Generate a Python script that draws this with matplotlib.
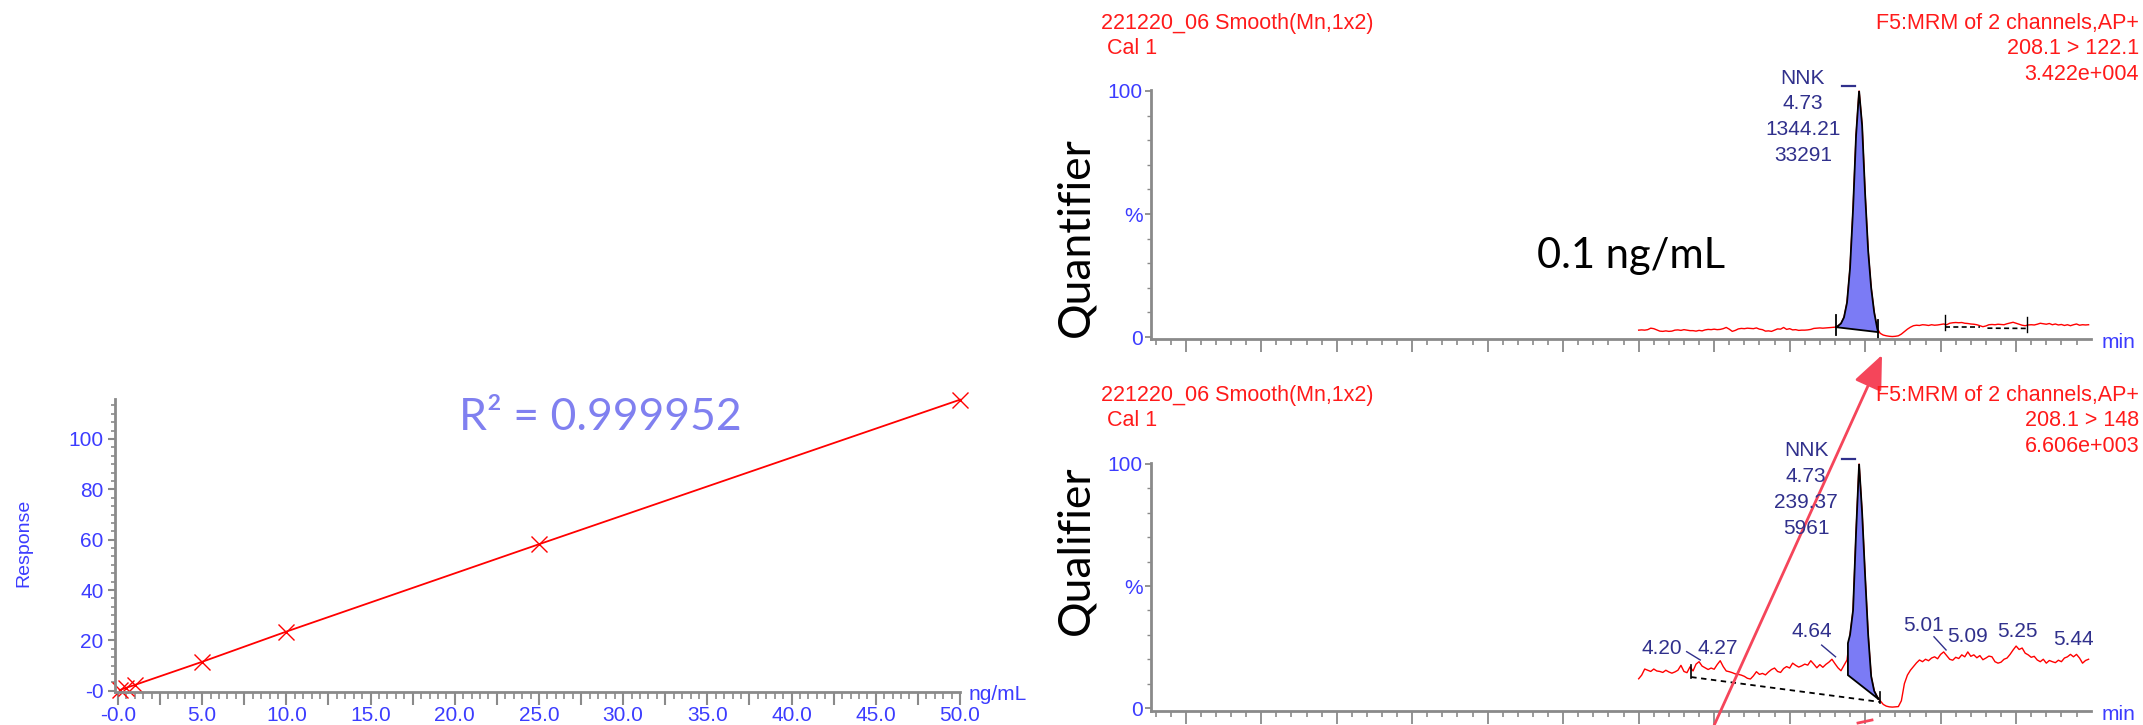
import numpy as np
import matplotlib
matplotlib.use("Agg")
import matplotlib.pyplot as plt
from matplotlib.ticker import MultipleLocator, FuncFormatter, NullFormatter, FixedLocator
from matplotlib.patches import FancyArrowPatch

# ---------------- data ----------------
# calibration curve
conc = [0.1, 0.5, 1.0, 5.0, 10.0, 25.0, 50.0]
response = [0.25, 1.2, 2.3, 11.5, 23.5, 58.2, 115.6]
r2_text = "R² = 0.999952"

# chromatogram sampling (min)
trace_start, trace_step, trace_n = 4.00, 0.01, 150

quant_pct = [
    2.8, 2.9, 2.8, 3.0, 3.6, 3.4, 2.9, 2.4, 2.3, 2.5,
    2.3, 2.4, 2.8, 2.9, 2.7, 3.0, 2.8, 2.6, 2.6, 2.4,
    2.7, 2.5, 2.9, 3.1, 3.0, 3.2, 3.0, 3.1, 3.4, 3.9,
    3.2, 2.3, 2.7, 3.3, 3.5, 3.4, 3.6, 3.5, 3.4, 3.7,
    3.2, 3.0, 2.4, 2.5, 2.3, 2.8, 3.3, 3.2, 3.9, 3.1,
    3.4, 2.9, 3.0, 2.7, 2.8, 2.8, 2.9, 3.1, 3.5, 3.6,
    3.7, 3.6, 3.7, 3.8, 3.9, 4.0, 4.5, 5.5, 8.0, 14.0,
    28.0, 52.0, 82.0, 100.0, 86.0, 58.0, 35.0, 20.0, 10.0, 3.5,
    1.5, 0.8, 0.5, 0.3, 0.2, 0.3, 0.5, 1.2, 2.2, 3.2,
    4.0, 4.6, 4.8, 4.7, 5.0, 4.9, 4.7, 5.0, 4.8, 4.9,
    5.1, 5.3, 5.0, 5.6, 5.8, 5.9, 5.8, 5.9, 5.6, 5.5,
    5.3, 5.2, 5.0, 4.6, 4.2, 4.5, 5.0, 5.1, 5.0, 5.2,
    5.1, 5.0, 5.4, 5.7, 6.0, 5.6, 5.2, 4.8, 4.6, 4.9,
    5.0, 4.9, 5.2, 5.6, 5.4, 5.2, 5.5, 5.0, 5.3, 4.9,
    5.1, 4.7, 5.0, 4.6, 5.0, 5.3, 4.8, 5.0, 4.9, 5.0,
]

qual_pct = [
    12.0, 13.5, 16.0, 15.5, 15.0, 16.0, 15.2, 15.0, 14.6, 15.5,
    14.8, 14.3, 14.8, 15.5, 17.5, 15.0, 14.5, 16.9, 15.2, 18.0,
    19.0, 17.2, 16.5, 15.8, 16.4, 15.9, 17.8, 19.4, 17.0, 15.2,
    14.9, 14.5, 14.0, 13.8, 13.5, 13.0, 12.2, 11.9, 13.2, 14.9,
    13.8, 14.2, 13.6, 14.8, 15.8, 16.4, 15.0, 14.6, 16.2, 17.0,
    16.4, 18.4, 17.5, 16.8, 17.3, 18.0, 17.6, 19.4, 18.0, 16.5,
    17.8, 16.7, 17.9, 18.8, 20.0, 18.2, 16.5, 15.3, 17.5, 19.7,
    30.0, 40.0, 72.0, 100.0, 80.0, 54.0, 30.0, 13.0, 7.0, 4.6,
    3.0, 1.5, 0.8, 0.5, 0.4, 0.5, 0.6, 3.0, 10.0, 13.5,
    15.5, 17.0, 18.5, 19.7, 19.0, 20.0, 19.4, 20.5, 21.0, 20.2,
    22.0, 23.0, 21.5, 20.0, 19.6, 20.8, 20.3, 21.8, 21.0, 23.0,
    21.2, 21.8, 20.6, 21.5, 19.8, 20.5, 21.3, 21.0, 19.0, 18.4,
    18.8, 20.0, 20.5, 22.0, 23.8, 25.4, 24.0, 24.6, 22.5, 21.8,
    20.8, 21.2, 19.7, 19.0, 20.0, 18.4, 19.5, 19.0, 18.6, 19.6,
    19.0, 20.5, 21.0, 22.0, 21.0, 22.0, 20.5, 18.4, 19.5, 20.0,
]

# peak labels
quant_peak = ["NNK", "4.73", "1344.21", "33291"]
qual_peak = ["NNK", "4.73", "239.37", "5961"]
qual_rt_labels = ["4.20", "4.27", "4.64", "5.01", "5.09", "5.25", "5.44"]

quant_header_left = ["221220_06 Smooth(Mn,1x2)", "Cal 1"]
quant_header_right = ["F5:MRM of 2 channels,AP+", "208.1 > 122.1", "3.422e+004"]
qual_header_left = ["221220_06 Smooth(Mn,1x2)", "Cal 1"]
qual_header_right = ["F5:MRM of 2 channels,AP+", "208.1 > 148", "6.606e+003"]

# ---------------- style ----------------
W, H = 2143, 725
BLUE = "#3c3cff"
NAVY = "#30308c"
LAV = "#8080f0"
RED = "#ff1a1a"
GRAY = "#8a8a8a"
FILL = "#7b7bf5"
SANS = ["Liberation Sans", "DejaVu Sans"]
GEO = ["Lato", "DejaVu Sans"]

fig = plt.figure(figsize=(W / 100, H / 100), dpi=100)


def fx(px):
    return px / W


def fy(py):
    return 1 - py / H


def ftext(px, py, s, **kw):
    kw.setdefault("family", SANS)
    fig.text(fx(px), fy(py), s, **kw)


# ---------------- calibration axes ----------------
ax1 = fig.add_axes([fx(114.6), fy(692), (960 - 114.6) / W, (692 - 399.2) / H])
ax1.set_xlim(-0.2, 50)
ax1.set_ylim(-0.5, 115.8)
for s in ["top", "right"]:
    ax1.spines[s].set_visible(False)
for s in ["left", "bottom"]:
    ax1.spines[s].set_color(GRAY)
    ax1.spines[s].set_linewidth(2.0)

ax1.xaxis.set_major_locator(MultipleLocator(2.5))
ax1.xaxis.set_minor_locator(MultipleLocator(0.5))


def xfmt(v, p):
    if abs(v / 5 - round(v / 5)) > 1e-6:
        return ""
    return "-0.0" if abs(v) < 1e-9 else f"{v:.1f}"


def yfmt(v, p):
    return "-0" if abs(v) < 1e-9 else f"{v:.0f}"


ax1.xaxis.set_major_formatter(FuncFormatter(xfmt))
ax1.yaxis.set_major_locator(MultipleLocator(20))
ax1.yaxis.set_minor_locator(MultipleLocator(20 / 6))
ax1.yaxis.set_major_formatter(FuncFormatter(yfmt))
ax1.tick_params(axis="x", which="major", length=9, width=1.5, color=GRAY,
                labelcolor=BLUE, labelsize=15, pad=1)
ax1.tick_params(axis="x", which="minor", length=5, width=1.2, color=GRAY)
ax1.tick_params(axis="y", which="major", length=5, width=1.5, color=GRAY,
                labelcolor=BLUE, labelsize=15, pad=3)
ax1.tick_params(axis="y", which="minor", length=3, width=1.2, color=GRAY)
for lab in ax1.get_xticklabels() + ax1.get_yticklabels():
    lab.set_family(SANS)

ax1.plot(conc, response, color="red", lw=1.3, marker="x", ms=12, mew=1.0,
         clip_on=False)

ftext(24, 543, "Response", color=BLUE, fontsize=14, rotation=90,
      ha="center", va="center")
ftext(969, 695, "ng/mL", color=BLUE, fontsize=15, ha="left", va="center")
ftext(600, 417, r2_text, color=LAV, fontsize=32, ha="center", va="center",
      family=GEO)

# ---------------- chromatograms ----------------
times = np.round(trace_start + trace_step * np.arange(trace_n), 2)
quant = np.array(quant_pct)
qual = np.array(qual_pct)


def setup_chrom(ax, ybot):
    ax.set_xlim(2.385, 5.498)
    ax.set_ylim(ybot, 100.4)
    for s in ["top", "right"]:
        ax.spines[s].set_visible(False)
    for s in ["left", "bottom"]:
        ax.spines[s].set_color(GRAY)
        ax.spines[s].set_linewidth(2.0)
    ax.xaxis.set_major_locator(MultipleLocator(0.25))
    ax.xaxis.set_minor_locator(MultipleLocator(0.05))
    ax.xaxis.set_major_formatter(NullFormatter())
    ax.set_yticks([0, 50, 100])
    ax.set_yticklabels(["0", "%", "100"])
    ax.yaxis.set_minor_locator(FixedLocator([10, 20, 30, 40, 60, 70, 80, 90]))
    ax.tick_params(axis="x", which="major", length=9.5, width=1.3, color=GRAY)
    ax.tick_params(axis="x", which="minor", length=4.5, width=1.2, color=GRAY)
    ax.tick_params(axis="y", which="major", length=4, width=1.3, color=GRAY,
                   labelcolor=BLUE, labelsize=15, pad=2)
    ax.tick_params(axis="y", which="minor", length=3, width=1.0, color=GRAY)
    for lab in ax.get_yticklabels():
        lab.set_family(SANS)


# Quantifier
ax2 = fig.add_axes([fx(1151), fy(339), (2091 - 1151) / W, (339 - 90) / H])
setup_chrom(ax2, -0.8)
ax2.plot(times, quant, color="red", lw=1.0, clip_on=False)
q0, q1 = (4.654, 4.0), (4.793, 2.0)
m = (times > q0[0]) & (times < q1[0])
poly_x = [q0[0]] + list(times[m]) + [q1[0]]
poly_y = [q0[1]] + list(quant[m]) + [q1[1]]
ax2.fill(poly_x, poly_y, facecolor=FILL, edgecolor="black", lw=1.3, zorder=3)
ax2.plot([q0[0], q0[0]], [8.9, 0.8], color="black", lw=1.3)
ax2.plot([q1[0], q1[0]], [6.9, -0.4], color="black", lw=1.3)
ax2.plot([q0[0], q0[0] + 0.012], [q0[1], q0[1]], color="black", lw=1.3)
# small integrated noise peaks
ax2.plot([5.015, 5.13], [4.2, 4.2], color="black", lw=1.2, ls=(0, (3, 2)))
ax2.plot([5.155, 5.286], [3.6, 3.5], color="black", lw=1.2, ls=(0, (3, 2)))
ax2.plot([5.015, 5.015], [8.9, 2.8], color="black", lw=1.0)
ax2.plot([5.286, 5.286], [8.0, 2.0], color="black", lw=1.0)
ax2.plot([4.675, 4.717], [102.0, 102.0], color=NAVY, lw=1.6, clip_on=False)

# Qualifier
ax3 = fig.add_axes([fx(1151), fy(711), (2091 - 1151) / W, (711 - 463) / H])
setup_chrom(ax3, -1.2)
ax3.plot(times, qual, color="red", lw=1.0, clip_on=False)
ax3.plot([4.174, 4.80], [12.7, 2.5], color="black", lw=1.3, ls=(0, (3, 2.5)))
ax3.plot([4.174, 4.174], [17.6, 12.3], color="black", lw=1.2)
ax3.plot([4.80, 4.80], [6.6, 2.2], color="black", lw=1.2)
p0, p0top, p1 = (4.693, 13.5), 26.6, (4.795, 3.6)
m = (times > p0[0]) & (times < p1[0])
poly_x = [p0[0], p0[0]] + list(times[m]) + [p1[0]]
poly_y = [p0[1], p0top] + list(qual[m]) + [p1[1]]
ax3.fill(poly_x, poly_y, facecolor=FILL, edgecolor="black", lw=1.3, zorder=3)
ax3.plot([4.675, 4.715], [102.0, 102.0], color=NAVY, lw=1.6, clip_on=False)

# retention-time labels on qualifier
rt_pos = [(4.077, 24.6), (4.263, 24.6), (4.574, 31.3), (4.944, 34.0),
          (5.089, 29.2), (5.253, 31.3), (5.44, 27.9)]
for s, (tx, ty) in zip(qual_rt_labels, rt_pos):
    ax3.text(tx, ty, s, color=NAVY, fontsize=15, ha="center", va="center",
             family=SANS)
for (xa, ya, xb, yb) in [(4.159, 23.1, 4.204, 19.7), (4.606, 25.8, 4.652, 21.0),
                         (4.978, 29.2, 5.018, 23.8)]:
    ax3.plot([xa, xb], [ya, yb], color=NAVY, lw=1.0)

# peak annotation blocks
for i, s in enumerate(quant_peak):
    ftext(1803, 78 + 25.7 * i, s, color=NAVY, fontsize=15, ha="center",
          va="center")
for i, s in enumerate(qual_peak):
    ftext(1806, 451 + 25.7 * i, s, color=NAVY, fontsize=15, ha="center",
          va="center")

# headers
for (yl, left, right) in [(23, quant_header_left, quant_header_right),
                          (395, qual_header_left, qual_header_right)]:
    ftext(1101, yl, left[0], color=RED, fontsize=15.5, ha="left", va="center")
    ftext(1107, yl + 25, left[1], color=RED, fontsize=15.5, ha="left",
          va="center")
    for i, s in enumerate(right):
        ftext(2139, yl + 25.5 * i, s, color=RED, fontsize=15.5, ha="right",
              va="center")

ftext(2102, 343, "min", color=BLUE, fontsize=15, ha="left", va="center")
ftext(2102, 714, "min", color=BLUE, fontsize=15, ha="left", va="center")

ftext(1076, 237, "Quantifier", color="black", fontsize=32, rotation=90,
      ha="center", va="center", family=GEO)
ftext(1076, 550, "Qualifier", color="black", fontsize=32, rotation=90,
      ha="center", va="center", family=GEO)
ftext(1537, 268, "0.1 ng/mL", color="black", fontsize=30, ha="left",
      va="baseline", family=GEO)

# red arrow overlay
arrow = FancyArrowPatch((fx(1712), fy(730)), (fx(1882), fy(355)),
                        transform=fig.transFigure,
                        arrowstyle="-|>,head_length=1.4,head_width=0.6",
                        mutation_scale=15, color="#f5455a", lw=2.0,
                        shrinkA=0, shrinkB=0)
fig.add_artist(arrow)
fig.add_artist(plt.Line2D([fx(1858), fx(1872)], [fy(723), fy(720)],
                          transform=fig.transFigure, color="#f5455a", lw=2.0))

fig.savefig("out.png", dpi=100)
